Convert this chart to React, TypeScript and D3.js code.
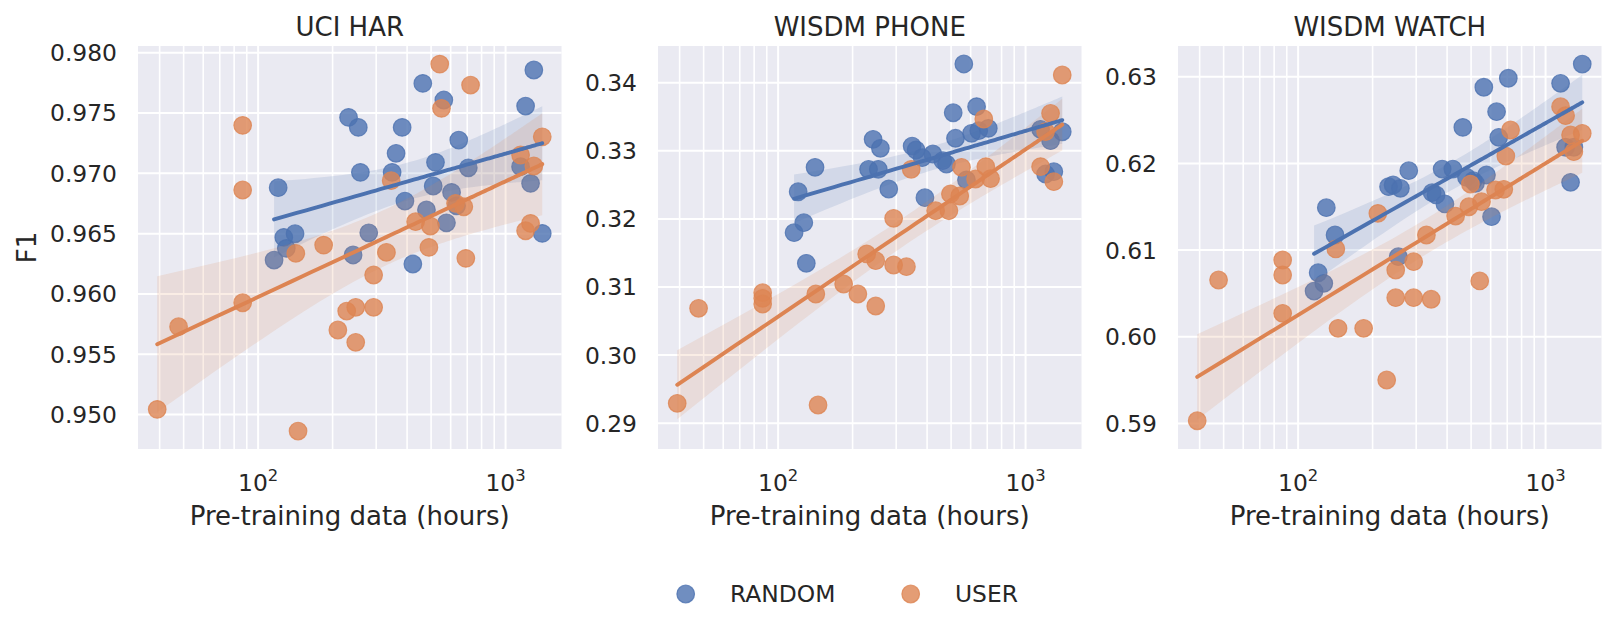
import React, { useEffect, useRef } from 'react';
import * as d3 from 'd3';

// pre-training hours for each run (shared by all three datasets)
const randomHours = [116, 120.5, 127, 130, 141, 232, 242, 254, 259, 280, 348, 361, 382, 392, 422, 463, 479, 510, 521, 563, 577, 605, 634, 647, 707, 1150, 1205, 1262, 1301, 1407];
const userHours = [39.1, 47.7, 86.6, 86.6, 86.6, 142, 145, 184, 210, 228, 248, 248, 293, 293, 330, 345, 433, 490, 497, 542, 551, 628, 678, 691, 722, 1150, 1205, 1262, 1301, 1407];

// F1 scores, same order as the hours above
const uciRandom = [0.96281, 0.96881, 0.96469, 0.96378, 0.96499, 0.97464, 0.96323, 0.97381, 0.97008, 0.96507, 0.97008, 0.97166, 0.97381, 0.9677, 0.96248, 0.97746, 0.96696, 0.96895, 0.97091, 0.97608, 0.9659, 0.96842, 0.96731, 0.97276, 0.97046, 0.97055, 0.97558, 0.96917, 0.97857, 0.96502];
const uciUser = [0.95043, 0.95728, 0.97398, 0.96862, 0.95927, 0.96337, 0.94863, 0.96405, 0.95701, 0.95858, 0.95889, 0.95599, 0.96157, 0.95889, 0.96345, 0.96939, 0.96599, 0.96386, 0.96563, 0.97906, 0.97539, 0.96751, 0.96723, 0.96295, 0.97732, 0.97152, 0.96524, 0.96585, 0.97061, 0.97303];

const phoneRandom = [0.31797, 0.32399, 0.31944, 0.31348, 0.32758, 0.32728, 0.33169, 0.32728, 0.33037, 0.32439, 0.3307, 0.33012, 0.32899, 0.32311, 0.32953, 0.32855, 0.32806, 0.33559, 0.33184, 0.34275, 0.32571, 0.33257, 0.33648, 0.33295, 0.3333, 0.33316, 0.32659, 0.33148, 0.32693, 0.3328];
const phoneUser = [0.29292, 0.30687, 0.30916, 0.30834, 0.3075, 0.30897, 0.29267, 0.31044, 0.30897, 0.31485, 0.31386, 0.30721, 0.31323, 0.32009, 0.31298, 0.32728, 0.3212, 0.3212, 0.32366, 0.32336, 0.32758, 0.32586, 0.33467, 0.32767, 0.3259, 0.32767, 0.33281, 0.33551, 0.32546, 0.34113];

const watchRandom = [0.60528, 0.60739, 0.60617, 0.61489, 0.61174, 0.61731, 0.61751, 0.60924, 0.61713, 0.61916, 0.61662, 0.61636, 0.61935, 0.61532, 0.61935, 0.62416, 0.6184, 0.618, 0.6177, 0.62878, 0.61866, 0.61385, 0.62596, 0.62301, 0.62982, 0.62924, 0.62186, 0.61782, 0.62186, 0.63146];
const watchUser = [0.59032, 0.60655, 0.60886, 0.60713, 0.60271, 0.61013, 0.60098, 0.60098, 0.61424, 0.59502, 0.6077, 0.60451, 0.60866, 0.60451, 0.61174, 0.60433, 0.61393, 0.615, 0.61762, 0.60644, 0.61558, 0.61693, 0.61701, 0.62085, 0.62385, 0.62654, 0.6255, 0.62328, 0.62135, 0.62347];

const panelTitles = ['UCI HAR', 'WISDM PHONE', 'WISDM WATCH'];
const uciTicks = [0.95, 0.955, 0.96, 0.965, 0.97, 0.975, 0.98];
const phoneTicks = [0.29, 0.3, 0.31, 0.32, 0.33, 0.34];
const watchTicks = [0.59, 0.6, 0.61, 0.62, 0.63];
const seriesNames = ['RANDOM', 'USER'];

const BLUE = '#4C72B0';
const ORANGE = '#DD8452';
const TEXT = '#262626';
const FONT = '"DejaVu Sans", sans-serif';

interface Panel {
  title: string;
  random: number[];
  user: number[];
  ticks: number[];
  domain: [number, number];
  fmt: string;
}

const panels: Panel[] = [
  { title: panelTitles[0], random: uciRandom, user: uciUser, ticks: uciTicks, domain: [0.94714, 0.98056], fmt: '.3f' },
  { title: panelTitles[1], random: phoneRandom, user: phoneUser, ticks: phoneTicks, domain: [0.28621, 0.34539], fmt: '.2f' },
  { title: panelTitles[2], random: watchRandom, user: watchUser, ticks: watchTicks, domain: [0.58706, 0.63354], fmt: '.2f' },
];

// least squares on log10(x) with a 95% band for the mean
function fitBand(xs: number[], ys: number[]) {
  const lx = xs.map(v => Math.log10(v));
  const n = lx.length;
  const mx = d3.mean(lx) as number;
  const my = d3.mean(ys) as number;
  const sxx = d3.sum(lx, v => (v - mx) ** 2);
  const sxy = d3.sum(lx.map((v, i) => (v - mx) * (ys[i] - my)));
  const b = sxy / sxx;
  const a = my - b * mx;
  const s = Math.sqrt(d3.sum(lx.map((v, i) => (ys[i] - a - b * v) ** 2)) / (n - 2));
  const t = 2.048;
  const lo = d3.min(xs) as number;
  const hi = d3.max(xs) as number;
  return d3.range(100).map(i => {
    const g = lo + ((hi - lo) * i) / 99;
    const l = Math.log10(g);
    const yh = a + b * l;
    const se = s * Math.sqrt(1 / n + (l - mx) ** 2 / sxx);
    return { x: g, y: yh, lo: yh - t * se, hi: yh + t * se };
  });
}

const App: React.FC = () => {
  const svgRef = useRef<SVGSVGElement | null>(null);

  useEffect(() => {
    if (!svgRef.current) return;
    const width = 1614;
    const height = 629;
    const svg = d3.select(svgRef.current).attr('width', width).attr('height', height);
    svg.selectAll('*').remove();

    const axLefts = [138, 658, 1178];
    const axW = 423.5;
    const axTop = 46;
    const axH = 403;
    const r = 8.8;

    const x = d3.scaleLog().domain([32.7, 1683]).range([0, axW]);
    const majors = [100, 1000];
    const minors = [40, 50, 60, 70, 80, 90, 200, 300, 400, 500, 600, 700, 800, 900];

    panels.forEach((p, pi) => {
      const g = svg.append('g').attr('transform', `translate(${axLefts[pi]},${axTop})`);
      const y = d3.scaleLinear().domain(p.domain).range([axH, 0]);

      g.append('rect').attr('width', axW).attr('height', axH).attr('fill', '#EAEAF2');

      // grid
      g.selectAll('.vminor').data(minors).enter().append('line')
        .attr('x1', d => x(d)).attr('x2', d => x(d)).attr('y1', 0).attr('y2', axH)
        .attr('stroke', '#fff').attr('stroke-width', 1.6);
      g.selectAll('.vmajor').data(majors).enter().append('line')
        .attr('x1', d => x(d)).attr('x2', d => x(d)).attr('y1', 0).attr('y2', axH)
        .attr('stroke', '#fff').attr('stroke-width', 2);
      g.selectAll('.hgrid').data(p.ticks).enter().append('line')
        .attr('x1', 0).attr('x2', axW).attr('y1', d => y(d)).attr('y2', d => y(d))
        .attr('stroke', '#fff').attr('stroke-width', 2);

      // y tick labels
      const fmt = d3.format(p.fmt);
      g.selectAll('.ytl').data(p.ticks).enter().append('text')
        .attr('x', -21).attr('y', d => y(d)).attr('dy', '0.36em')
        .attr('text-anchor', 'end').attr('font-size', 23.4).attr('fill', TEXT)
        .attr('font-family', FONT).text(d => fmt(d));

      // x tick labels (10^n)
      majors.forEach(m => {
        const t = g.append('text').attr('x', x(m)).attr('y', axH + 41.7)
          .attr('text-anchor', 'middle').attr('font-family', FONT).attr('fill', TEXT);
        t.append('tspan').attr('font-size', 23.4).text('10');
        t.append('tspan').attr('font-size', 16.4).attr('dy', -10).text(String(Math.round(Math.log10(m))));
      });

      // title and axis label
      g.append('text').attr('x', axW / 2).attr('y', -9.6).attr('text-anchor', 'middle')
        .attr('font-size', 26).attr('fill', TEXT).attr('font-family', FONT).text(p.title);
      g.append('text').attr('x', axW / 2).attr('y', axH + 75.5).attr('text-anchor', 'middle')
        .attr('font-size', 26).attr('fill', TEXT).attr('font-family', FONT).text('Pre-training data (hours)');

      const series = [
        { xs: randomHours, ys: p.random, color: BLUE },
        { xs: userHours, ys: p.user, color: ORANGE },
      ];

      const marks = g.append('g');
      const fits = series.map(s => fitBand(s.xs, s.ys));

      series.forEach((s, si) => {
        marks.selectAll(`.pt-${si}`).data(s.xs.map((v, i) => ({ x: v, y: s.ys[i] }))).enter()
          .append('circle')
          .attr('cx', d => x(d.x)).attr('cy', d => y(d.y)).attr('r', r)
          .attr('fill', s.color).attr('fill-opacity', 0.8)
          .attr('stroke', s.color).attr('stroke-opacity', 0.8).attr('stroke-width', 1.2);

        const area = d3.area<{ x: number; lo: number; hi: number }>()
          .x(d => x(d.x)).y0(d => y(d.lo)).y1(d => y(d.hi));
        marks.append('path').datum(fits[si]).attr('d', area)
          .attr('fill', s.color).attr('fill-opacity', 0.15);
      });

      series.forEach((s, si) => {
        const line = d3.line<{ x: number; y: number }>().x(d => x(d.x)).y(d => y(d.y));
        marks.append('path').datum(fits[si]).attr('d', line)
          .attr('fill', 'none').attr('stroke', s.color).attr('stroke-width', 3.9)
          .attr('stroke-linecap', 'round');
      });
    });

    // y label
    svg.append('text').attr('transform', 'translate(36,247.5) rotate(-90)')
      .attr('text-anchor', 'middle').attr('font-size', 26).attr('fill', TEXT)
      .attr('font-family', FONT).text('F1');

    // legend
    const legX = [685.7, 910.7];
    const colors = [BLUE, ORANGE];
    seriesNames.forEach((name, i) => {
      svg.append('circle').attr('cx', legX[i]).attr('cy', 594).attr('r', r)
        .attr('fill', colors[i]).attr('fill-opacity', 0.8)
        .attr('stroke', colors[i]).attr('stroke-opacity', 0.8).attr('stroke-width', 1.2);
      svg.append('text').attr('x', legX[i] + 44.3).attr('y', 601.7)
        .attr('font-size', 23.4).attr('fill', TEXT).attr('font-family', FONT).text(name);
    });
  }, []);

  return (
    <div style={{ position: 'absolute', left: 0, top: 0, background: '#fff' }}>
      <svg ref={svgRef}></svg>
    </div>
  );
};

export default App;
